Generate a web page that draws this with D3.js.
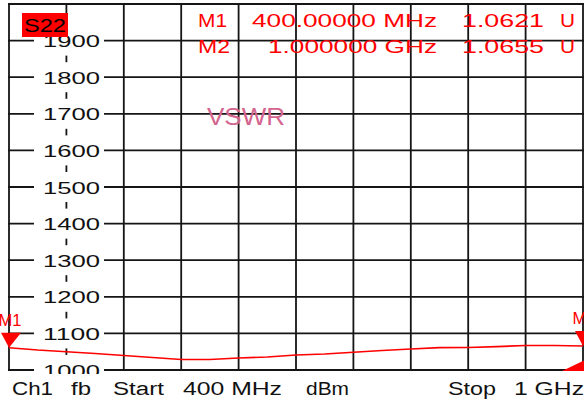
<!DOCTYPE html>
<html>
<head>
<meta charset="utf-8">
<script src="https://cdn.jsdelivr.net/npm/d3@7"></script>
<style>
  html, body { margin: 0; padding: 0; background: #fff; }
  svg { display: block; font-family: "Liberation Sans", Arial, sans-serif; }
</style>
</head>
<body>
<script>
// trace data, VSWR in milli-units (1000 = 1.000)
var freqs = [400, 430, 460, 490, 520, 550, 580, 610, 640, 670, 700,
             730, 760, 790, 820, 850, 880, 910, 940, 970, 1000];
var vswr  = [1061, 1054.6, 1050, 1045, 1039.6, 1034, 1028.7, 1028.7, 1032.8, 1035.5, 1041,
             1043.7, 1048.4, 1053.3, 1057.4, 1061, 1061.5, 1064, 1067, 1067, 1065.5];

var yTicks = [1000, 1100, 1200, 1300, 1400, 1500, 1600, 1700, 1800, 1900];
var xGrid = [400, 460, 520, 580, 640, 700, 760, 820, 880, 940, 1000];
var yGrid = [1000, 1100, 1200, 1300, 1400, 1500, 1600, 1700, 1800, 1900, 2000];

var markerNames = ["M1", "M2"];
var markerFreqs = [400, 1000];
var markerStim = ["400.00000 MHz", "1.000000 GHz"];
var markerReads = ["1.0621", "1.0655"];

var footer = ["Ch1", "fb", "Start", "400 MHz", "dBm", "Stop", "1 GHz"];

var width = 584, height = 401;

var x = d3.scaleLinear().domain([400, 1000]).range([9, 583]);
var y = d3.scaleLinear().domain([1000, 2000]).range([370, 4]);

var svg = d3.select("body").append("svg")
    .attr("width", width)
    .attr("height", height);

var gridColor = "#151515";

// grid
svg.append("g")
  .selectAll("line")
  .data(xGrid)
  .enter().append("line")
    .attr("x1", function(d) { return x(d) }).attr("x2", function(d) { return x(d) })
    .attr("y1", y(2000)).attr("y2", y(1000))
    .attr("stroke", gridColor).attr("stroke-width", 1.8)

svg.append("g")
  .selectAll("line")
  .data(yGrid)
  .enter().append("line")
    .attr("x1", x(400) - 1).attr("x2", x(1000) + 1)
    .attr("y1", function(d) { return y(d) }).attr("y2", function(d) { return y(d) })
    .attr("stroke", gridColor).attr("stroke-width", 1.8)

// y labels with white boxes knocking out the grid
var clip = svg.append("clipPath").attr("id", "lblclip")
clip.append("rect").attr("x", 0).attr("y", 0).attr("width", width).attr("height", 374)

var lbl = svg.append("g").attr("clip-path", "url(#lblclip)")
  .selectAll("g")
  .data(yTicks)
  .enter().append("g")

lbl.append("rect")
    .attr("x", 34).attr("width", 70)
    .attr("y", function(d) { return y(d) - 15 }).attr("height", 30)
    .attr("fill", "#fff")

lbl.append("text")
    .attr("x", 100)
    .attr("y", function(d) { return y(d) + 6.5 })
    .attr("text-anchor", "end")
    .attr("font-size", 17)
    .attr("textLength", 57).attr("lengthAdjust", "spacingAndGlyphs")
    .attr("fill", "#111")
    .text(function(d) { return d })

// S22 badge
svg.append("rect").attr("x", 22).attr("y", 13).attr("width", 46).attr("height", 24).attr("fill", "#ff0000")
svg.append("text").attr("x", 24).attr("y", 32).attr("font-size", 19)
    .attr("textLength", 42).attr("lengthAdjust", "spacingAndGlyphs")
    .attr("fill", "#000").text("S22")

// VSWR title
svg.append("text").attr("x", 207).attr("y", 125).attr("font-size", 23)
    .attr("textLength", 78).attr("lengthAdjust", "spacingAndGlyphs")
    .attr("fill", "#d4648e").text("VSWR")

// marker readout
var rows = svg.append("g").selectAll("g")
  .data(markerNames)
  .enter().append("g")
    .attr("fill", "#ff0000")
    .attr("font-size", 18)

rows.append("text").attr("x", 198).attr("y", function(d, i) { return 27 + i * 26 })
    .attr("textLength", function(d, i) { return i ? 32 : 29 }).attr("lengthAdjust", "spacingAndGlyphs")
    .text(function(d) { return d })
rows.append("text").attr("x", 437).attr("y", function(d, i) { return 27 + i * 26 })
    .attr("text-anchor", "end")
    .attr("textLength", function(d, i) { return i ? 169 : 185 }).attr("lengthAdjust", "spacingAndGlyphs")
    .text(function(d, i) { return markerStim[i] })
rows.append("text").attr("x", 462).attr("y", function(d, i) { return 27 + i * 26 })
    .attr("textLength", 82).attr("lengthAdjust", "spacingAndGlyphs")
    .text(function(d, i) { return markerReads[i] })
rows.append("text").attr("x", 560).attr("y", function(d, i) { return 27 + i * 26 })
    .attr("textLength", 15).attr("lengthAdjust", "spacingAndGlyphs")
    .text("U")

// trace
var line = d3.line()
    .x(function(d, i) { return x(freqs[i]) })
    .y(function(d) { return y(d) })

svg.append("path")
    .datum(vswr)
    .attr("d", line)
    .attr("fill", "none")
    .attr("stroke", "#ff0000")
    .attr("stroke-width", 1.6)

// marker triangles
var mk = svg.append("g").selectAll("g")
  .data(markerNames)
  .enter().append("g")
    .attr("transform", function(d, i) {
      return "translate(" + x(markerFreqs[i]) + "," + y(vswr[freqs.indexOf(markerFreqs[i])]) + ")"
    })
    .attr("fill", "#ff0000")

mk.append("path").attr("d", "M-8,-15L12,-15L0,0Z")
mk.append("text").attr("x", 1).attr("y", -22).attr("text-anchor", "middle")
    .attr("font-size", 17).attr("textLength", 23).attr("lengthAdjust", "spacingAndGlyphs")
    .text(function(d) { return d })

// stop-side wedge on the bottom frame
svg.append("path")
    .attr("d", "M" + (x(1000) - 21) + "," + (y(1000) + 1) + "L" + (x(1000) + 6) + "," + (y(1000) + 1) +
               "L" + (x(1000) + 6) + "," + (y(1000) - 12) + "Z")
    .attr("fill", "#ff0000")

// footer
var footX = [12, 71, 113, 183, 306, 448, 514];
var footW = [41, 20, 51, 99, 43, 48, 70];
svg.append("g").selectAll("text")
  .data(footer)
  .enter().append("text")
    .attr("x", function(d, i) { return footX[i] })
    .attr("y", 395)
    .attr("font-size", 18)
    .attr("textLength", function(d, i) { return footW[i] }).attr("lengthAdjust", "spacingAndGlyphs")
    .attr("fill", "#111")
    .text(function(d) { return d })
</script>
</body>
</html>
